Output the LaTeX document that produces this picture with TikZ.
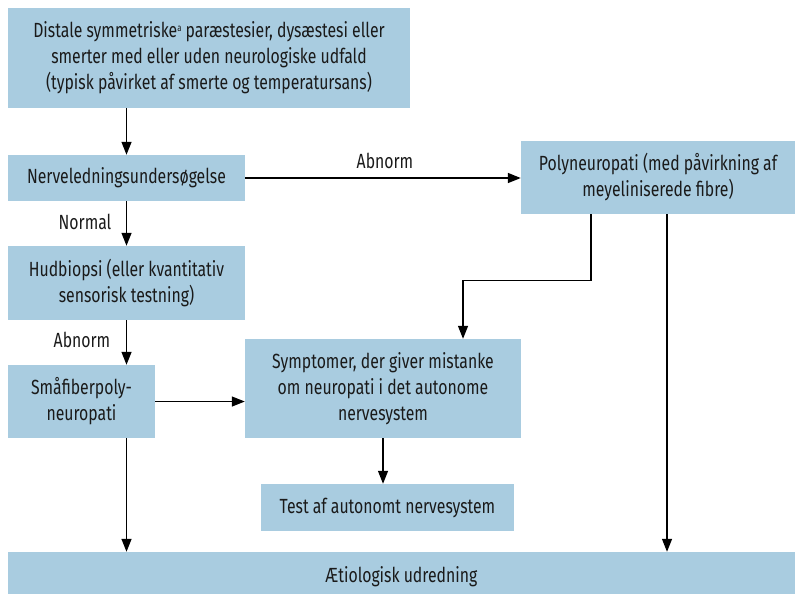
\documentclass[tikz,border=0pt]{standalone}
\usepackage{fontspec}
\setmainfont{Fira Sans}[FakeStretch=0.77]
\usetikzlibrary{arrows.meta,calc}
\definecolor{boxblue}{RGB}{169,204,224}
\definecolor{txt}{RGB}{26,26,26}
\newcommand{\supa}{\raisebox{6pt}{\fontsize{10}{10}\selectfont a}}
\begin{document}
\begin{tikzpicture}[x=1pt,y=-1pt,
  every node/.style={text=txt,font=\fontsize{20.5}{26}\selectfont},
  bx/.style={fill=boxblue,draw=none,inner sep=0pt,align=center},
  arr/.style={draw=black,line width=1.3pt,-{Triangle[length=13pt,width=10pt]}},
  lbl/.style={inner sep=0pt}]
\useasboundingbox (0,0) rectangle (795,594);
\node[bx,minimum width=402,minimum height=100] (top) at (209,58)
  {\rule{0pt}{3pt}Distale symmetriske\supa{} paræstesier, dysæstesi eller\\smerter med eller uden neurologiske udfald\\(typisk påvirket af smerte og temperatursans)};
\node[bx,minimum width=237,minimum height=46] (nerve) at (126.5,178) {Nerveledningsundersøgelse};
\node[bx,minimum width=274,minimum height=73] (poly) at (658,177.5) {Polyneuropati (med påvirkning af\\meyeliniserede fibre)};
\node[bx,minimum width=237,minimum height=74] (hud) at (126.5,283) {Hudbiopsi (eller kvantitativ\\sensorisk testning)};
\node[bx,minimum width=147,minimum height=73] (sma) at (81.5,401.5) {Småfiberpoly-\\neuropati};
\node[bx,minimum width=276,minimum height=99] (symp) at (383,388.5) {Symptomer, der giver mistanke\\om neuropati i det autonome\\nervesystem};
\node[bx,minimum width=253,minimum height=47] (test) at (387.5,507.5) {Test af autonomt nervesystem};
\node[bx,minimum width=787,minimum height=50] (ae) at (401.5,577) {Ætiologisk udredning};

\draw[arr] (nerve.north |- top.south) -- (nerve.north);
\draw[arr] (nerve.east) -- (poly.west |- nerve.east);
\draw[arr] (nerve.south) -- (hud.north);
\draw[arr] (hud.south) -- (hud.south |- sma.north);
\draw[arr] (sma.east) -- (symp.west |- sma.east);
\draw[arr] (hud.south |- sma.south) -- (hud.south |- ae.north);
\draw[arr] ([xshift=-67pt]poly.south) -- ++(0,66) -| ([xshift=80pt]symp.north);
\draw[arr] ([xshift=9pt]poly.south) -- ([xshift=9pt]poly.south |- ae.north);
\draw[arr] (symp.south) -- (symp.south |- test.north);

\node[lbl] (l1) at (385,161) {Abnorm};
\node[lbl] (l2) at (85,222) {Normal};
\node[lbl] (l3) at (82,340) {Abnorm};
\end{tikzpicture}
\end{document}
